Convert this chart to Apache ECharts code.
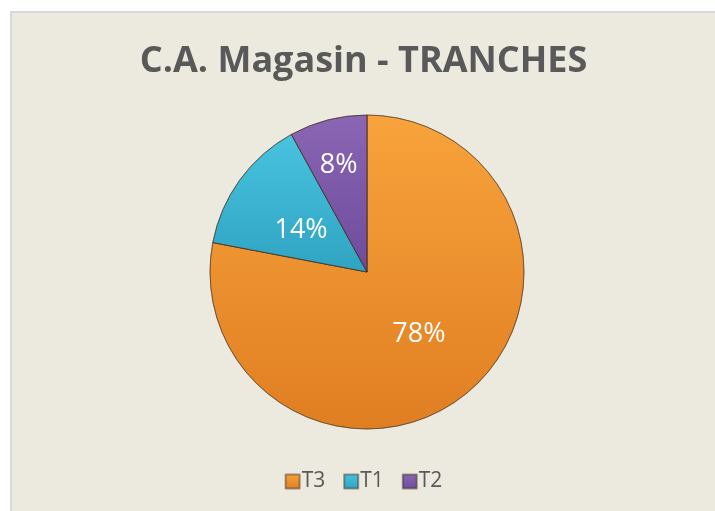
<!DOCTYPE html>
<html>
<head>
<meta charset="utf-8">
<script src="https://cdn.jsdelivr.net/npm/echarts@6/dist/echarts.min.js"></script>
<style>
  html, body { margin: 0; padding: 0; background: #fff; }
  #chart {
    position: absolute; left: 10px; top: 11px;
    width: 705px; height: 500px;
    background: #ECE9DF;
    border-top: 2px solid #d9d9d9; border-left: 2px solid #d9d9d9;
    box-sizing: border-box;
  }
</style>
</head>
<body>
<div id="chart"></div>
<script>
// C.A. Magasin par tranche
const categories = ['T3', 'T1', 'T2'];
const shares = [78, 14, 8];
const colors = [
  ['#F8A33B', '#E07E22'],
  ['#48C3E0', '#2FA3C2'],
  ['#8A66B5', '#6E4C9B'],
];

const chart = echarts.init(document.getElementById('chart'));
chart.setOption({
  backgroundColor: 'transparent',
  title: {
    text: 'C.A. Magasin - TRANCHES',
    left: 'center', top: 26,
    textStyle: { fontFamily: 'Open Sans', fontWeight: 'bold', fontSize: 36, color: '#595959' }
  },
  legend: {
    bottom: 14, left: 'center',
    itemWidth: 14, itemHeight: 14, itemGap: 18,
    icon: 'rect',
    textStyle: { fontFamily: 'Open Sans', fontSize: 21, color: '#595959', padding: [0, 0, 0, -3] },
    data: categories
  },
  series: [{
    type: 'pie',
    center: [355, 259],
    radius: [0, 157],
    startAngle: 90,
    clockwise: true,
    avoidLabelOverlap: false,
    label: {
      show: true, position: 'inner',
      fontFamily: 'Open Sans', fontSize: 27, color: '#fff',
      formatter: p => p.value + '%'
    },
    // Excel pushes the small slice label outward
    labelLayout: p => (p.dataIndex === 2 ? { dy: -28, dx: -8 } : p.dataIndex === 1 ? { dy: 6 } : {}),
    labelLine: { show: false },
    itemStyle: { borderColor: 'rgba(60,40,20,0.45)', borderWidth: 1 },
    data: categories.map((c, i) => ({
      name: c, value: shares[i],
      itemStyle: {
        color: new echarts.graphic.LinearGradient(0, 0, 0, 1, [
          { offset: 0, color: colors[i][0] },
          { offset: 1, color: colors[i][1] }
        ])
      }
    }))
  }]
});
</script>
</body>
</html>
